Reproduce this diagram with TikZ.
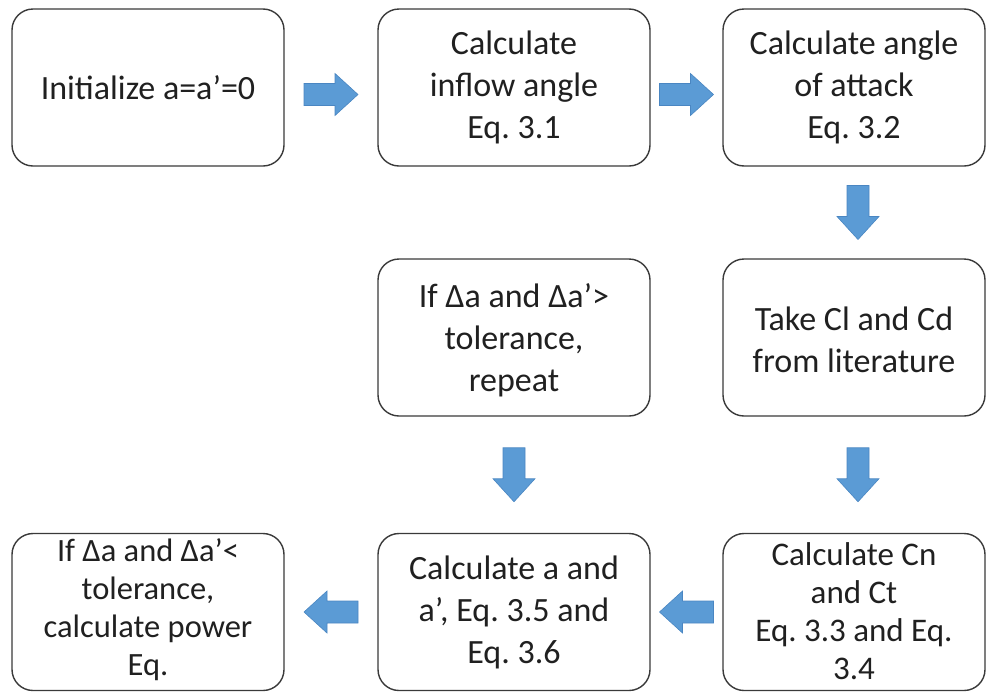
\documentclass[tikz,border=0pt]{standalone}
\usepackage{fontspec}
\setmainfont{Carlito}
\frenchspacing
\usetikzlibrary{calc}
\definecolor{arrowblue}{HTML}{5B9BD5}
\definecolor{arrowedge}{HTML}{4A86C2}
\definecolor{boxedge}{HTML}{3A3A3A}
\definecolor{txt}{HTML}{202020}
\tikzset{
  flowbox/.style={draw=boxedge, line width=1.4pt, rounded corners=21pt, fill=white, inner sep=0pt},
  wide/.style={minimum width=272pt, minimum height=157pt},
  narrow/.style={minimum width=262pt, minimum height=157pt},
  boxtext/.style={align=center, text=txt, inner sep=0pt, font=\fontsize{34}{42}\selectfont},
  tighttext/.style={align=center, text=txt, inner sep=0pt, font=\fontsize{32.5}{38}\selectfont},
  cntext/.style={align=center, text=txt, inner sep=0pt, font=\fontsize{33}{38}\selectfont},
  blockarrow/.style={fill=arrowblue, draw=arrowedge, line width=0.6pt, line join=miter},
  barrow/.pic={\path[blockarrow] (-27,-11) -- (4,-11) -- (4,-21) -- (27,0) -- (4,21) -- (4,11) -- (-27,11) -- cycle;}
}
\begin{document}
\begin{tikzpicture}[x=1pt, y=-1pt]
\useasboundingbox (0,0) rectangle (987,691);
% boxes
\node[flowbox, wide]   (init)    at (148,87.5)  {};
\node[flowbox, wide]   (inflow)  at (514,87.5)  {};
\node[flowbox, narrow] (attack)  at (854,87.5)  {};
\node[flowbox, narrow] (clcd)    at (854,337.5) {};
\node[flowbox, wide]   (repeat)  at (514,337.5) {};
\node[flowbox, wide]   (power)   at (148,612)   {};
\node[flowbox, wide]   (calca)   at (514,612)   {};
\node[flowbox, narrow] (cnct)    at (854,612)   {};
% texts
\node[boxtext] (initT)   at (init.center)   {Initialize a=a’=0};
\node[boxtext] (inflowT) at (inflow.center) {Calculate\\inflow angle\\Eq. 3.1};
\node[boxtext] (attackT) at (attack.center) {Calculate angle\\of attack\\Eq. 3.2};
\node[boxtext] (clcdT)   at ($(clcd.center)+(0,2)$)   {Take Cl and Cd\\from literature};
\node[boxtext] (repeatT) at ($(repeat.center)+(0,3)$) {If Δa and Δa’>\\tolerance,\\repeat};
\node[boxtext] (calcaT)  at (calca.center)  {Calculate a and\\a’, Eq. 3.5 and\\Eq. 3.6};
\node[cntext] (cnctT)   at ($(cnct.center)+(0,-1)$)   {Calculate Cn\\and Ct\\Eq. 3.3 and Eq.\\3.4};
\node[tighttext] (powerT) at ($(power.center)+(0,-2)$) {If Δa and Δa’<\\tolerance,\\calculate power\\Eq.};
% block arrows
\pic (a1) at ($(init.east)!0.5!(inflow.west)+(0,7)$) {barrow};
\pic (a2) at ($(inflow.east)!0.5!(attack.west)+(0,7)$) {barrow};
\pic[rotate=-90] (a3) at ($(attack.south)!0.5!(clcd.north)+(4,0)$) {barrow};
\pic[rotate=-90] (a4) at ($(clcd.south)!0.5!(cnct.north)+(4,0)$) {barrow};
\pic[rotate=-90] (a5) at ($(repeat.south)!0.5!(calca.north)$) {barrow};
\pic[rotate=180] (a6) at ($(cnct.west)!0.5!(calca.east)$) {barrow};
\pic[rotate=180] (a7) at ($(calca.west)!0.5!(power.east)$) {barrow};
\end{tikzpicture}
\end{document}
